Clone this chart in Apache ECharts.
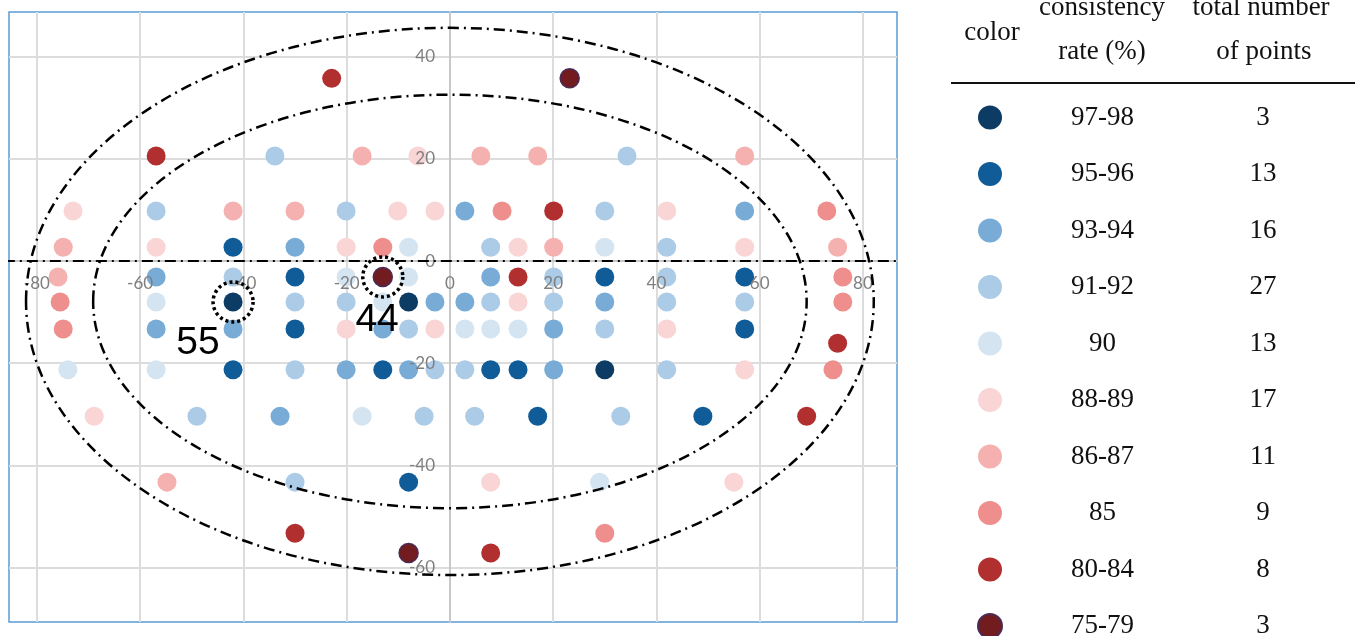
<!DOCTYPE html>
<html>
<head>
<meta charset="utf-8">
<script src="https://cdn.jsdelivr.net/npm/echarts@6/dist/echarts.min.js"></script>
<style>
  html, body { margin: 0; padding: 0; background: #fff; }
  #chart { width: 1361px; height: 636px; }
</style>
</head>
<body>
<div id="chart"></div>
<script>
// categories (consistency rate, %) and number of points in each
const rates = ["97-98", "95-96", "93-94", "91-92", "90", "88-89", "86-87", "85", "80-84", "75-79"];
const counts = [3, 13, 16, 27, 13, 17, 11, 9, 8, 3];
const colors = ["#0c3b64", "#0f5c98", "#78acd6", "#abcbe7", "#d5e4f1",
                "#f9d5d5", "#f4b1b0", "#ee8f8d", "#b22f2f", "#731c20"];

// points of each category, [x, y]
const p97_98 = [[-42, -8], [-8, -8], [30, -21.3]];
const p95_96 = [[-42, 2.7], [-30, -3.1], [30, -3.1], [57.1, -3.1], [-30, -13.3], [57.1, -13.3],
  [-42, -21.3], [-13, -21.3], [7.9, -21.3], [13.2, -21.3], [17, -30.4], [49, -30.4], [-8, -43.3]];
const p93_94 = [[2.9, 9.8], [57.1, 9.8], [-30, 2.7], [-56.9, -3.1], [7.9, -3.1], [-2.9, -8],
  [2.9, -8], [30, -8], [-56.9, -13.3], [-42, -13.3], [-13, -13.3], [20.1, -13.3],
  [-20.1, -21.3], [-8, -21.3], [20.1, -21.3], [-32.9, -30.4]];
const p91_92 = [[-33.9, 20.6], [34.3, 20.6], [-56.9, 9.8], [-20.1, 9.8], [30, 9.8], [7.9, 2.7],
  [42, 2.7], [-42, -3.1], [20.1, -3.1], [42, -3.1], [-30, -8], [-20.1, -8], [7.9, -8],
  [20.1, -8], [42, -8], [57.1, -8], [-8, -13.3], [30, -13.3], [-30, -21.3], [-2.9, -21.3],
  [2.9, -21.3], [42, -21.3], [-49, -30.4], [-5, -30.4], [4.8, -30.4], [33.1, -30.4], [-30, -43.3]];
const p90 = [[-8, 2.7], [30, 2.7], [-20.1, -3.1], [-8, -3.1], [-56.9, -8], [-13, -8],
  [2.9, -13.3], [7.9, -13.3], [13.2, -13.3], [-74, -21.3], [-56.9, -21.3], [-17, -30.4], [29, -43.3]];
const p88_89 = [[-6.2, 20.6], [-73, 9.8], [-10.1, 9.8], [-2.9, 9.8], [42, 9.8], [-56.9, 2.7],
  [-20.1, 2.7], [13.2, 2.7], [57.1, 2.7], [13.2, -8], [-20.1, -13.3], [-2.9, -13.3],
  [42, -13.3], [57.1, -21.3], [-68.9, -30.4], [7.9, -43.3], [55, -43.3]];
const p86_87 = [[-17, 20.6], [6, 20.6], [17, 20.6], [57.1, 20.6], [-42, 9.8], [-30, 9.8],
  [-74.9, 2.7], [20.1, 2.7], [75.1, 2.7], [-75.9, -3.1], [-54.8, -43.3]];
const p85 = [[10.1, 9.8], [73, 9.8], [-13, 2.7], [76.1, -3.1], [-75.5, -8], [76.1, -8],
  [-74.9, -13.3], [74.2, -21.3], [30, -53.3]];
const p80_84 = [[-22.9, 35.8], [-56.9, 20.6], [20.1, 9.8], [13.2, -3.1], [75.1, -16.1],
  [69.1, -30.4], [-30, -53.3], [7.9, -57.2]];
const p75_79 = [[23.2, 35.8], [-13, -3.1], [-8, -57.2]];
const groups = [p97_98, p95_96, p93_94, p91_92, p90, p88_89, p86_87, p85, p80_84, p75_79];

// axis ticks
const xTicks = [-80, -60, -40, -20, 0, 20, 40, 60, 80];
const yTicks = [-60, -40, -20, 0, 20, 40];

// dash-dot ellipses: [cx, cy, rx, ry]
const ellipses = [[0, -7.9, 82.1, 53.6], [0, -7.9, 69.1, 40.5]];
// dotted circles and their numbers
const marked = [[-42, -8], [-13, -3.1]];
const markText = ["55", "44"];
const markTextPos = [[-48.8, -16.1], [-14.1, -11.6]];
// dash-dot line along y = 0
const zeroLine = [[-86.4, 0], [90, 0]];

const serif = "Liberation Serif";
const chart = echarts.init(document.getElementById("chart"));

const series = groups.map((pts, i) => ({
  name: rates[i],
  type: "scatter",
  data: pts,
  symbolSize: 19,
  itemStyle: i === 9
    ? { color: colors[i], opacity: 1, borderColor: "#4b2a55", borderWidth: 1.5 }
    : { color: colors[i], opacity: 1 },
  z: 3
}));

series.push({
  type: "line",
  data: zeroLine,
  showSymbol: false,
  clip: false,
  silent: true,
  lineStyle: { color: "#000", width: 2, type: [11, 5, 2, 5] },
  z: 5
});

series.push({
  type: "custom",
  data: ellipses,
  silent: true,
  encode: { x: 0, y: 1 },
  renderItem: (params, api) => {
    const c = api.coord([api.value(0), api.value(1)]);
    const s = api.size([api.value(2), api.value(3)]);
    return {
      type: "ellipse",
      shape: { cx: c[0], cy: c[1], rx: s[0], ry: s[1] },
      style: { fill: null, stroke: "#000", lineWidth: 2.5, lineDash: [11, 5, 2, 5] }
    };
  },
  z: 5
});

series.push({
  type: "custom",
  data: marked,
  silent: true,
  renderItem: (params, api) => {
    const c = api.coord([api.value(0), api.value(1)]);
    const t = api.coord(markTextPos[params.dataIndex]);
    return {
      type: "group",
      children: [
        { type: "circle", shape: { cx: c[0], cy: c[1], r: 20 },
          style: { fill: null, stroke: "#000", lineWidth: 3.5, lineDash: [3, 3] } },
        { type: "text", x: t[0], y: t[1],
          style: { text: markText[params.dataIndex], fill: "#000", fontSize: 39,
                   fontFamily: "Liberation Sans", align: "center", verticalAlign: "middle" } }
      ]
    };
  },
  z: 6
});

const labelStyle = { color: "#7f7f7f", fontSize: 17, fontFamily: "Lato" };
const xRange = { min: -85.4, max: 86.6 };
const yRange = { min: -70.7, max: 48.8 };

chart.setOption({
  animation: false,
  grid: {
    left: 9, top: 12, width: 888, height: 610,
    containLabel: false, outerBoundsMode: "none",
    show: true, borderColor: "#5b9bd5", borderWidth: 1.5, backgroundColor: "#fff"
  },
  // first pair: grid lines under the points; second pair: tick labels above them.
  // axes moved onto the zero lines with offset (x: 622 -> 261, y: 9 -> 450)
  xAxis: [
    Object.assign({
      type: "value", position: "bottom", offset: -361,
      axisLine: { onZero: false, lineStyle: { color: "#c8c8c8", width: 2 } },
      axisTick: { show: false, customValues: xTicks },
      axisLabel: { show: false, customValues: xTicks },
      splitLine: { show: true, lineStyle: { color: "#dcdcdc", width: 2 } }
    }, xRange),
    Object.assign({
      type: "value", position: "bottom", offset: -361, z: 4,
      axisLine: { show: false, onZero: false },
      axisTick: { show: false, customValues: xTicks },
      axisLabel: Object.assign({ customValues: xTicks, margin: 14 }, labelStyle),
      splitLine: { show: false }
    }, xRange)
  ],
  yAxis: [
    Object.assign({
      type: "value", position: "left", offset: -441,
      axisLine: { onZero: false, lineStyle: { color: "#c8c8c8", width: 2 } },
      axisTick: { show: false, customValues: yTicks },
      axisLabel: { show: false, customValues: yTicks },
      splitLine: { show: true, lineStyle: { color: "#dcdcdc", width: 2 } }
    }, yRange),
    Object.assign({
      type: "value", position: "left", offset: -441, z: 4,
      axisLine: { show: false, onZero: false },
      axisTick: { show: false, customValues: yTicks },
      axisLabel: Object.assign({ customValues: yTicks, margin: 15 }, labelStyle),
      splitLine: { show: false }
    }, yRange)
  ],
  legend: {
    orient: "vertical", left: 977, top: 104, height: 620, padding: 0,
    itemWidth: 24, itemHeight: 24, itemGap: 29.5,
    icon: "circle", selectedMode: false,
    data: rates,
    formatter: name => `{r|${name}}{n|${counts[rates.indexOf(name)]}}`,
    textStyle: {
      fontFamily: serif, fontSize: 27, color: "#111",
      rich: {
        r: { width: 191, align: "center", fontFamily: serif, fontSize: 27, color: "#111" },
        n: { width: 130, align: "center", fontFamily: serif, fontSize: 27, color: "#111" }
      }
    }
  },
  graphic: [
    { type: "text", x: 992, y: 33, style: { text: "color", font: `27px "${serif}"`, fill: "#111", align: "center", verticalAlign: "middle" } },
    { type: "text", x: 1102, y: 8, style: { text: "consistency", font: `27px "${serif}"`, fill: "#111", align: "center", verticalAlign: "middle" } },
    { type: "text", x: 1102, y: 52, style: { text: "rate (%)", font: `27px "${serif}"`, fill: "#111", align: "center", verticalAlign: "middle" } },
    { type: "text", x: 1261, y: 8, style: { text: "total number", font: `27px "${serif}"`, fill: "#111", align: "center", verticalAlign: "middle" } },
    { type: "text", x: 1264, y: 52, style: { text: "of points", font: `27px "${serif}"`, fill: "#111", align: "center", verticalAlign: "middle" } },
    { type: "line", shape: { x1: 951, y1: 83, x2: 1355, y2: 83 }, style: { stroke: "#111", lineWidth: 2 } }
  ],
  series: series
});
</script>
</body>
</html>
